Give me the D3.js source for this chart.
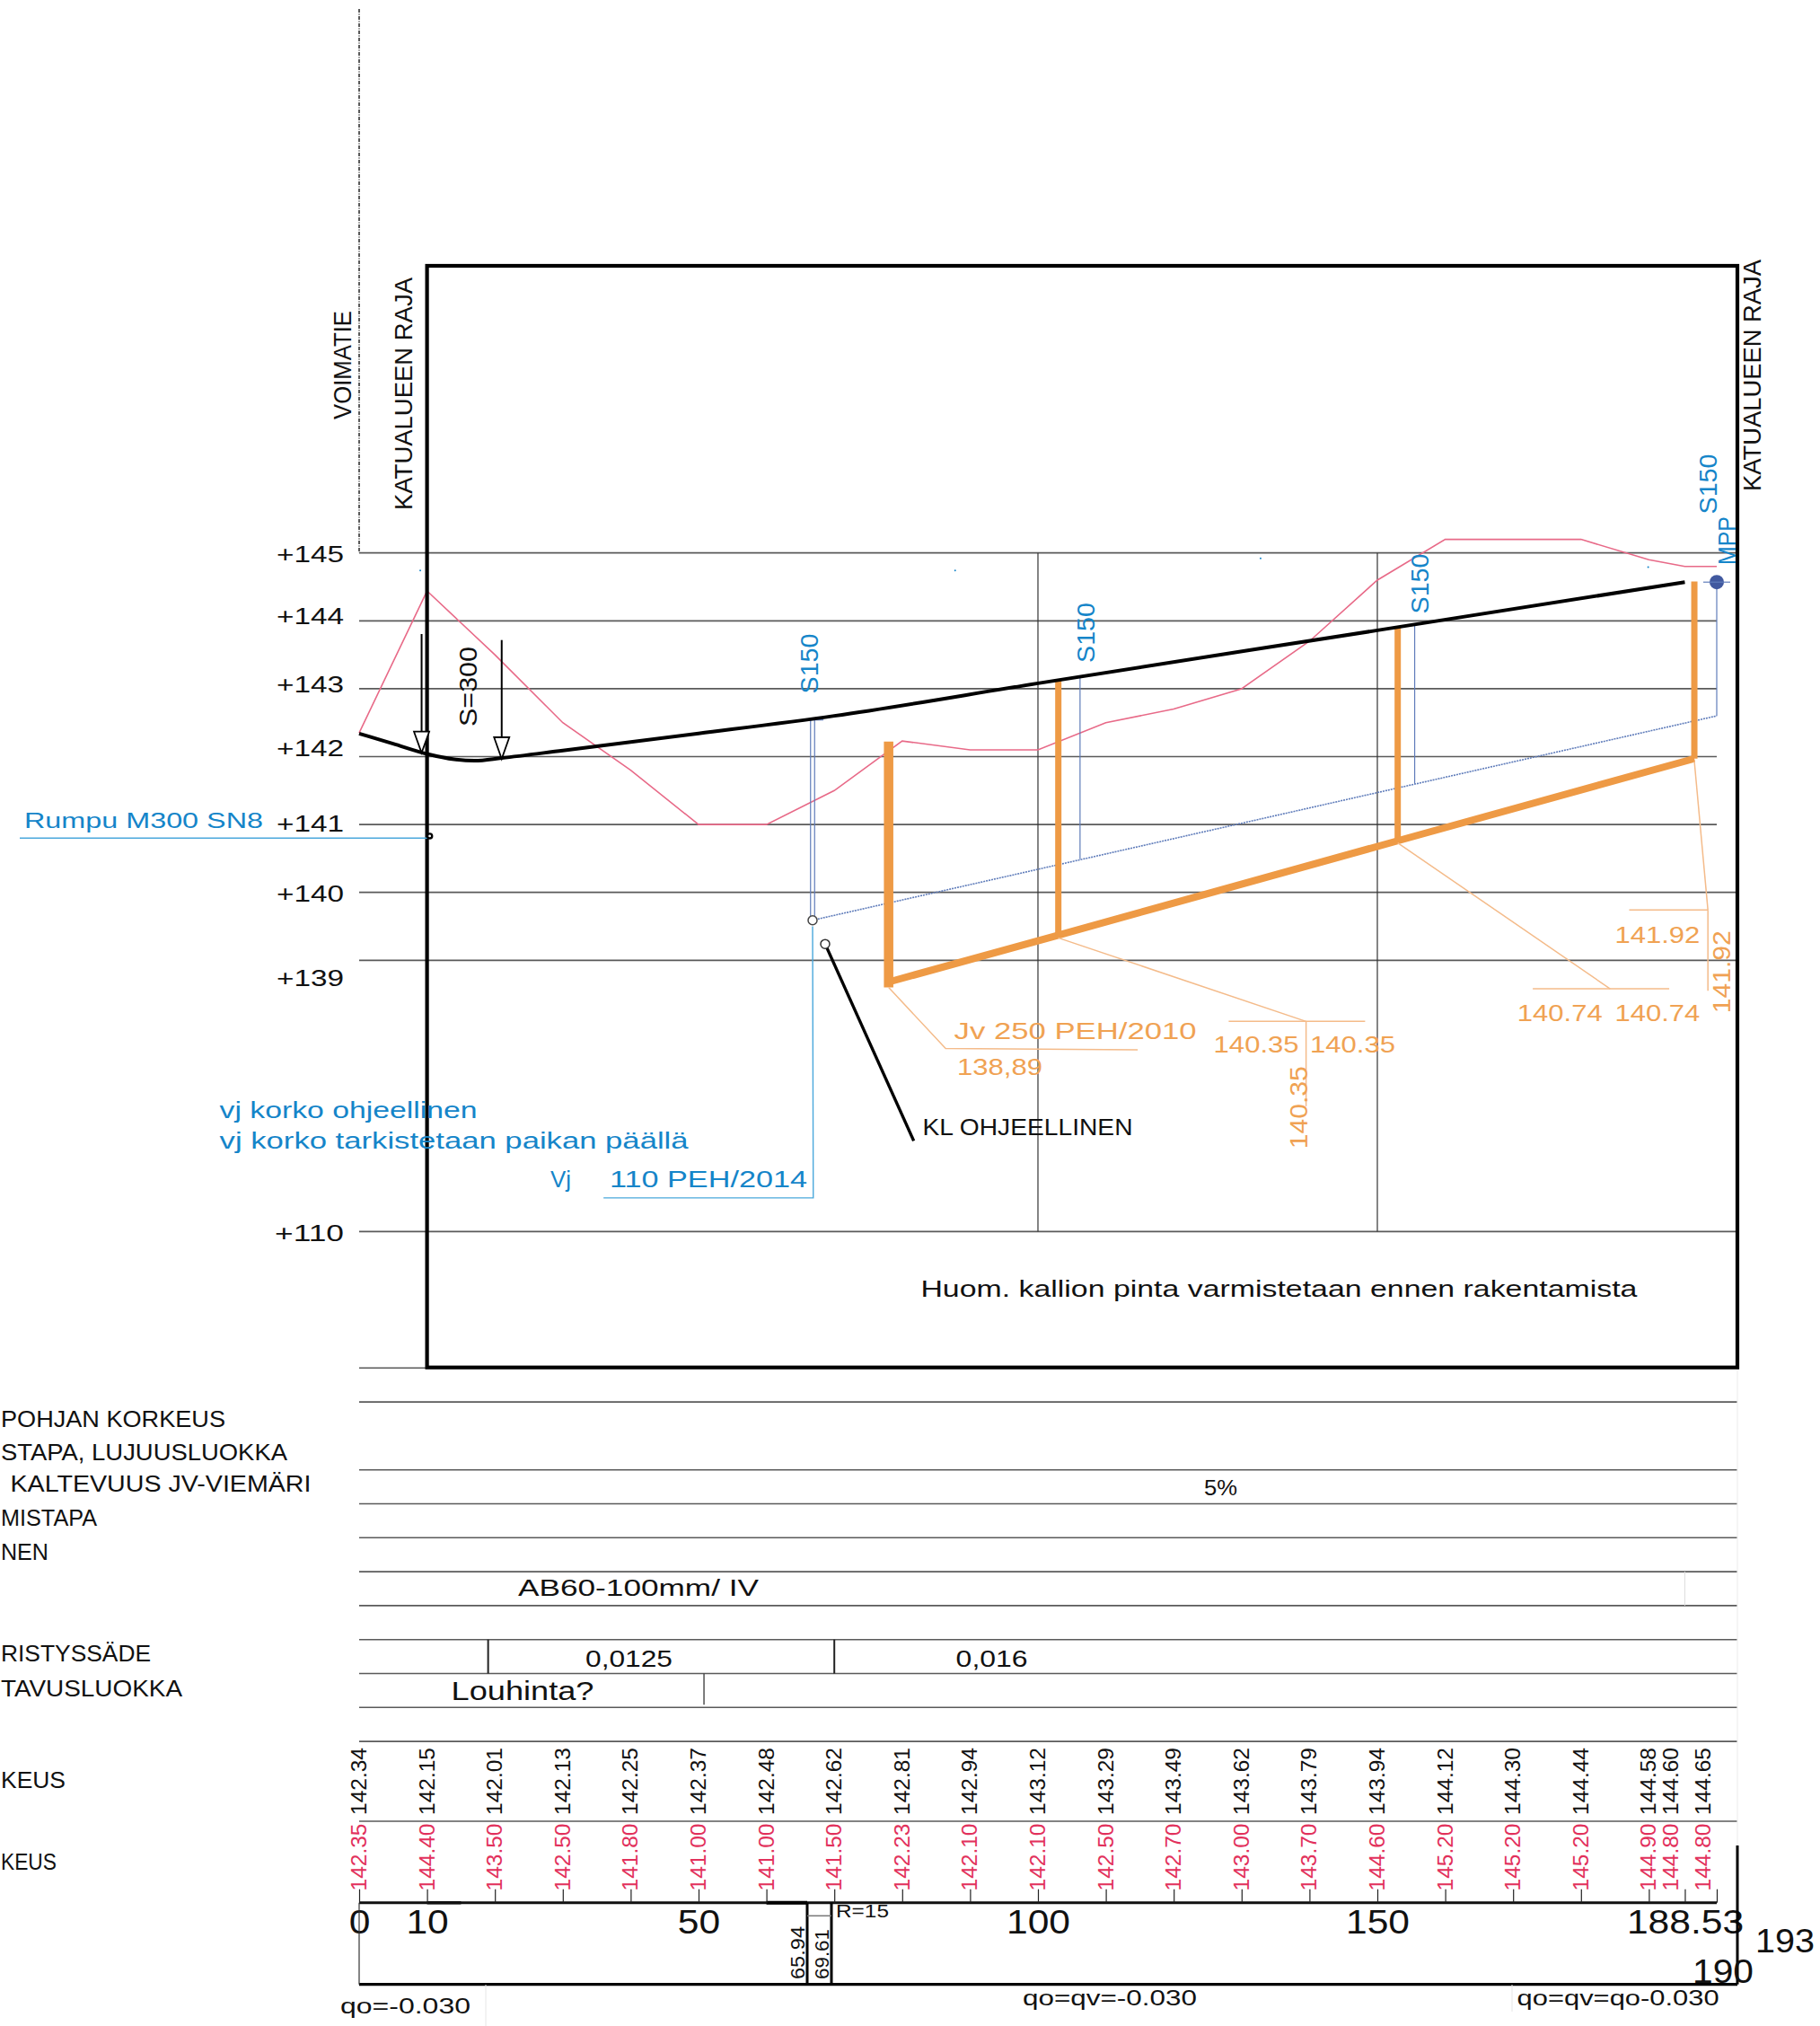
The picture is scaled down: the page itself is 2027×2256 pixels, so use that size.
<!DOCTYPE html>
<html>
<head>
<meta charset="utf-8">
<script src="https://cdn.jsdelivr.net/npm/d3@7"></script>
<style>
  body { margin: 0; background: #fff; }
  text { font-family: "Liberation Sans", Arial, sans-serif; }
</style>
</head>
<body>
<div id="chart"></div>
<script>
// Stations along the street (the last two are squeezed in at the end)
const stations = [0, 10, 20, 30, 40, 50, 60, 70, 80, 90, 100, 110, 120, 130, 140, 150, 160, 170, 180, 190, 195.3, 200];
const roadLabels = ["142.34", "142.15", "142.01", "142.13", "142.25", "142.37", "142.48", "142.62", "142.81", "142.94", "143.12", "143.29", "143.49", "143.62", "143.79", "143.94", "144.12", "144.30", "144.44", "144.58", "144.60", "144.65"];
const groundLabels = ["142.35", "144.40", "143.50", "142.50", "141.80", "141.00", "141.00", "141.50", "142.23", "142.10", "142.10", "142.50", "142.70", "143.00", "143.70", "144.60", "145.20", "145.20", "145.20", "144.90", "144.80", "144.80"];
const groundLevels = [142.35, 144.44, 143.5, 142.5, 141.8, 141, 141, 141.5, 142.23, 142.1, 142.1, 142.5, 142.7, 143, 143.7, 144.6, 145.2, 145.2, 145.2, 144.9, 144.8, 144.8];

// Profile lines as [station, level]
const roadProfile = [[0, 142.34], [5, 142.19], [10, 142.04], [14, 141.96], [17, 141.94], [21, 141.98], [30, 142.09], [50, 142.34], [70, 142.6], [100, 143.08], [150, 143.86], [195.3, 144.57]];
const waterMain = [[78, 138.68], [103, 139.37], [153, 140.76], [196.7, 141.97]];
const waterRisers = [[103, 143.12, 139.37], [153, 143.9, 140.76], [196.7, 144.58, 141.97]];
const firstRiser = [78, 142.22, 138.6];
const stormMain = [[66.8, 139.59], [200, 142.6]];
const stormRisers = [[66.5, 142.54, 139.59], [67.1, 142.54, 139.59], [106.2, 143.16, 140.49], [155.5, 143.93, 141.6], [200, 144.57, 142.6]];
const strayDots = [[9, 144.74], [87.8, 144.74], [132.8, 144.92], [189.9, 144.79]];

// Leaders and small details, also [station, level]
const waterLeaders = [
  [[78, 138.6], [86.4, 137.7], [114.7, 137.68]],
  [[103, 139.33], [139.5, 138.1]],
  [[128.1, 138.1], [148.2, 138.1]],
  [[139.5, 138.1], [139.5, 136.85]],
  [[153, 140.73], [184.3, 138.58]],
  [[172.9, 138.58], [193, 138.58]],
  [[196.7, 141.93], [198.7, 139.74]],
  [[187.1, 139.74], [198.7, 139.74]],
  [[198.7, 139.74], [198.7, 138.55]]
];
const stormLeader = [[66.8, 139.5], [66.9, 135.5], [36, 135.5]];
const culvertLeader = [[-50, 140.8], [10.2, 140.8]];
const rockLeader = [[68.65, 139.24], [81.7, 136.34]];

const levels = [145, 144, 143, 142, 141, 140, 139];
const levelBaselines = [626, 695, 771, 841.6, 926, 1004, 1098];
const levelsToFrame = [145, 140, 139];
const axisLabels = [[0, "0"], [10, "10"], [50, "50"], [100, "100"], [150, "150"], [195.3, "188.53"]];
const tableRows = [0, 1, 3, 4, 5, 6, 7, 8, 9, 10, 11];

const svgWidth = 2027;
const svgHeight = 2256;
const frame = { left: 475.6, right: 1935, top: 296, bottom: 1522.7 };
const breakY = 1371.3;

const xScale = d3.scaleLinear().domain([0, 200]).range([400, 1912]);
const yScale = d3.scaleLinear().domain([139, 145]).range([1069.3, 615.7]);
const rowY = i => 1523.3 + 37.8 * i;

const blue = "#1585c9", orange = "#f0a253", pipeBlue = "#5f7cba", pink = "#e86a88", red = "#e2315c", grid = "#5a5a5a";

const svg = d3.select("#chart").append("svg")
  .attr("width", svgWidth)
  .attr("height", svgHeight)
  .style("display", "block");

const toLine = d3.line().x(d => xScale(d[0])).y(d => yScale(d[1]));

// Plain helper for the many free standing labels
function label(text, x, y, size, width, color, rotated) {
  const t = svg.append("text")
    .attr("font-size", size)
    .attr("fill", color || "#111")
    .attr("transform", `translate(${x},${y})` + (rotated ? " rotate(-90)" : ""))
    .text(text);
  if (width) t.attr("textLength", width).attr("lengthAdjust", "spacingAndGlyphs");
  return t;
}

function hLine(x1, x2, y, color, w) {
  svg.append("line").attr("x1", x1).attr("x2", x2).attr("y1", y).attr("y2", y).attr("stroke", color).attr("stroke-width", w);
}

function vLine(x, y1, y2, color, w) {
  svg.append("line").attr("x1", x).attr("x2", x).attr("y1", y1).attr("y2", y2).attr("stroke", color).attr("stroke-width", w);
}

// Level grid
svg.selectAll(".level").data(levels).enter().append("line")
  .attr("x1", xScale(0))
  .attr("x2", d => levelsToFrame.includes(d) ? frame.right : xScale(200))
  .attr("y1", d => yScale(d))
  .attr("y2", d => yScale(d))
  .attr("stroke", grid)
  .attr("stroke-width", 1.7);
hLine(xScale(0), frame.right, breakY, grid, 1.7);

vLine(xScale(100), yScale(145), breakY, "#333", 1.2);
vLine(xScale(150), yScale(145), breakY, "#333", 1.2);

// Road reserve marker above the grid
svg.append("line")
  .attr("x1", xScale(0)).attr("x2", xScale(0))
  .attr("y1", 10).attr("y2", yScale(145))
  .attr("stroke", "#333").attr("stroke-width", 1.6).attr("stroke-dasharray", "4 1.5 1 1.5");

levels.forEach((d, i) => {
  label("+" + d, 308, levelBaselines[i], 25.5, 75);
});
label("+110", 306, 1382, 25.5, 77);

// Table rows under the profile
svg.selectAll(".row").data(tableRows).enter().append("line")
  .attr("x1", xScale(0)).attr("x2", frame.right)
  .attr("y1", d => rowY(d)).attr("y2", d => rowY(d))
  .attr("stroke", grid).attr("stroke-width", 1.6);
hLine(xScale(0), frame.right, 2028, grid, 1.7);
hLine(xScale(0), xScale(200), 2118.7, "#111", 3);
hLine(xScale(10), xScale(15), 2118.7, "#111", 3.5);
hLine(xScale(60), 899, 2118.7, "#000", 4);
hLine(xScale(0), frame.right, 2209.7, "#000", 3.2);
vLine(frame.right, frame.bottom, 2055, "#eeeeee", 1.2);

vLine(xScale(19), rowY(8), rowY(9), "#222", 2);
vLine(xScale(70), rowY(8), rowY(9), "#222", 2);
vLine(xScale(50.8), rowY(9), rowY(10) - 3, "#444", 1.4);
vLine(xScale(195.3), rowY(6), rowY(7), "#ddd", 1);

// Stationing ticks and big labels
svg.append("g")
  .attr("transform", "translate(0,2118.7)")
  .call(d3.axisTop(xScale).tickValues(stations).tickSize(15).tickFormat(""))
  .call(g => g.select(".domain").remove())
  .call(g => g.selectAll("line").attr("stroke", "#222").attr("stroke-width", 1.2));

svg.append("g")
  .attr("transform", "translate(0,2118.7)")
  .call(d3.axisBottom(xScale)
    .tickValues(axisLabels.map(d => d[0]))
    .tickFormat(d => axisLabels.find(a => a[0] === d)[1])
    .tickSize(0).tickPadding(8))
  .call(g => g.select(".domain").remove())
  .call(g => g.selectAll("text")
    .attr("font-family", "Liberation Sans")
    .attr("font-size", 37)
    .attr("fill", "#111")
    // the drawing has these a bit wider than the plain font
    .each(function() {
      this.setAttribute("textLength", this.getComputedTextLength() * 1.15);
      this.setAttribute("lengthAdjust", "spacingAndGlyphs");
    }));

// Rotated value columns; last two are pushed left of their tick
const labelOffset = i => i >= 20 ? -15 : 0;
svg.selectAll(".roadLabel").data(roadLabels).enter().append("text")
  .attr("transform", (d, i) => `translate(${xScale(stations[i]) + labelOffset(i) + 8},2021) rotate(-90)`)
  .attr("font-size", 24.5)
  .attr("fill", "#111")
  .text(d => d);
svg.selectAll(".groundLabel").data(groundLabels).enter().append("text")
  .attr("transform", (d, i) => `translate(${xScale(stations[i]) + labelOffset(i) + 8},2105.5) rotate(-90)`)
  .attr("font-size", 24.5)
  .attr("fill", red)
  .text(d => d);

// Ground surface
svg.append("path")
  .attr("d", toLine(stations.map((s, i) => [s, groundLevels[i]])))
  .attr("fill", "none").attr("stroke", pink).attr("stroke-width", 1.6);

// Storm drain
svg.append("path")
  .attr("d", toLine(stormMain))
  .attr("fill", "none").attr("stroke", pipeBlue).attr("stroke-width", 1.6).attr("stroke-dasharray", "2 1");
svg.selectAll(".stormRiser").data(stormRisers).enter().append("line")
  .attr("x1", d => xScale(d[0])).attr("x2", d => xScale(d[0]))
  .attr("y1", d => yScale(d[1])).attr("y2", d => yScale(d[2]))
  .attr("stroke", pipeBlue).attr("stroke-width", 1.2);
hLine(xScale(66.5), xScale(68.4), yScale(142.54), pipeBlue, 1.2);

// Water pipe
svg.append("path")
  .attr("d", toLine(waterMain))
  .attr("fill", "none").attr("stroke", "#ee9a45").attr("stroke-width", 8);
svg.selectAll(".waterRiser").data(waterRisers).enter().append("line")
  .attr("x1", d => xScale(d[0])).attr("x2", d => xScale(d[0]))
  .attr("y1", d => yScale(d[1])).attr("y2", d => yScale(d[2]))
  .attr("stroke", "#ee9a45").attr("stroke-width", 7);
vLine(xScale(firstRiser[0]), yScale(firstRiser[1]), yScale(firstRiser[2]), "#ee9a45", 10.5);

svg.selectAll(".waterLeader").data(waterLeaders).enter().append("path")
  .attr("d", d => toLine(d))
  .attr("fill", "none").attr("stroke", "#f4bb8a").attr("stroke-width", 1.5);

// Road surface
svg.append("path")
  .attr("d", d3.line().x(d => xScale(d[0])).y(d => yScale(d[1])).curve(d3.curveMonotoneX)(roadProfile))
  .attr("fill", "none").attr("stroke", "#000").attr("stroke-width", 4);

// Outer frame
svg.append("rect")
  .attr("x", frame.left).attr("y", frame.top)
  .attr("width", frame.right - frame.left).attr("height", frame.bottom - frame.top)
  .attr("fill", "none").attr("stroke", "#000").attr("stroke-width", 4.2);

// Leaders with their end markers
svg.append("path").attr("d", toLine(stormLeader)).attr("fill", "none").attr("stroke", "#4aa8dc").attr("stroke-width", 1.4);
svg.append("path").attr("d", toLine(culvertLeader)).attr("fill", "none").attr("stroke", "#4aa8dc").attr("stroke-width", 1.6);
svg.append("path").attr("d", toLine(rockLeader)).attr("fill", "none").attr("stroke", "#000").attr("stroke-width", 3.4);
svg.append("circle").attr("cx", xScale(10.4)).attr("cy", yScale(140.83)).attr("r", 2.6).attr("fill", "#fff").attr("stroke", "#000").attr("stroke-width", 2.4);
svg.append("circle").attr("cx", xScale(66.8)).attr("cy", yScale(139.59)).attr("r", 5).attr("fill", "#fff").attr("stroke", "#444").attr("stroke-width", 1.5);
svg.append("circle").attr("cx", xScale(68.65)).attr("cy", yScale(139.24)).attr("r", 5).attr("fill", "#fff").attr("stroke", "#333").attr("stroke-width", 1.5);

// MPP well
svg.append("circle").attr("cx", xScale(200)).attr("cy", yScale(144.57)).attr("r", 8).attr("fill", "#41599f");
hLine(xScale(200) - 15, xScale(200) + 15, yScale(144.57), pipeBlue, 1.2);

svg.selectAll(".stray").data(strayDots).enter().append("circle")
  .attr("cx", d => xScale(d[0])).attr("cy", d => yScale(d[1])).attr("r", 1).attr("fill", blue);

// S=300 arrows
[[9.2, 706, 814.7, 838.3], [21, 712.7, 821, 845]].forEach(a => {
  const ax = xScale(a[0]);
  vLine(ax, a[1], a[2], "#000", 2);
  svg.append("path")
    .attr("d", `M${ax - 8.5},${a[2]}L${ax + 8.5},${a[2]}L${ax},${a[3]}Z`)
    .attr("fill", "#fff").attr("stroke", "#000").attr("stroke-width", 1.8);
});

// Rotated labels
label("VOIMATIE", 391, 467, 27, 121, "#111", true);
label("KATUALUEEN RAJA", 459, 568, 28, 259, "#111", true);
label("KATUALUEEN RAJA", 1961, 547, 28, 258, "#111", true);
label("S=300", 531, 809, 28, 89, "#111", true);
label("S150", 911, 772.5, 28, 67, blue, true);
label("S150", 1219, 738, 28, 67, blue, true);
label("S150", 1591, 683.5, 28, 67, blue, true);
label("S150", 1911.6, 572.5, 28, 67, blue, true);
label("MPP", 1933, 629, 28, 54, blue, true);

// Blue notes
label("Rumpu M300 SN8", 27, 922, 24.5, 266, blue);
label("vj korko ohjeellinen", 244.6, 1244.5, 25, 287, blue);
label("vj korko tarkistetaan paikan päällä", 244.6, 1279, 25, 522, blue);
label("Vj", 613, 1322, 25, 23, blue);
label("110 PEH/2014", 679, 1322, 25, 220, blue);

// Orange notes
label("Jv 250 PEH/2010", 1062.6, 1156.7, 25.5, 270, orange);
label("138,89", 1066, 1197.3, 25.5, 95, orange);
label("140.35", 1351.6, 1172.3, 25.5, 95, orange);
label("140.35", 1459, 1172.3, 25.5, 95, orange);
label("140.35", 1456, 1279.3, 28, 92, orange, true);
label("140.74", 1689.7, 1137.3, 25.5, 95, orange);
label("140.74", 1798.4, 1137.3, 25.5, 95, orange);
label("141.92", 1798.4, 1050, 25.5, 95, orange);
label("141.92", 1926.8, 1128.3, 28, 92, orange, true);

// Black notes
label("KL OHJEELLINEN", 1027.5, 1264, 25, 234);
label("Huom. kallion pinta varmistetaan ennen rakentamista", 1025.4, 1444, 25, 798);

// Table text, the left column starts right at the page edge as in the drawing
label("POHJAN KORKEUS", 1, 1589, 25, 250);
label("STAPA, LUJUUSLUOKKA", 1, 1626, 25, 319);
label("KALTEVUUS JV-VIEMÄRI", 11.5, 1661, 25, 335);
label("MISTAPA", 1, 1699, 25, 107);
label("NEN", 1, 1736.7, 25, 53);
label("RISTYSSÄDE", 1, 1850, 25, 167);
label("TAVUSLUOKKA", 1, 1889, 25, 202);
label("KEUS", 1, 1990.7, 25, 72);
label("KEUS", 1, 2081.7, 25, 62);

label("5%", 1341, 1664.5, 24, 37);
label("AB60-100mm/ IV", 577, 1777, 25, 268);
label("0,0125", 652, 1856, 25, 97);
label("0,016", 1064.6, 1856, 25, 80);
label("Louhinta?", 502.5, 1892.7, 30, 159);

// Bottom band
vLine(xScale(0), 2118.7, 2209.7, "#333", 1.2);
vLine(899, 2118.7, 2209.7, "#000", 3);
vLine(926, 2118.7, 2209.7, "#000", 3);
hLine(899, 926, 2133.3, "#777", 1.5);
vLine(frame.right, 2055, 2209.7, "#000", 3);
vLine(541, 2210, 2256, "#e6e6e6", 1);
vLine(1684, 2210, 2240, "#e6e6e6", 1);

label("65.94", 896, 2204, 22, 59, "#111", true);
label("69.61", 923, 2204, 22, 56, "#111", true);
label("R=15", 931, 2135, 20, 59);
label("190", 1885, 2208, 37, 68);
label("193", 1955, 2174, 37, 66);
label("qo=-0.030", 379, 2241.7, 23, 145);
label("qo=qv=-0.030", 1139, 2233, 23, 194);
label("qo=qv=qo-0.030", 1689.6, 2233, 23, 225);
</script>
</body>
</html>
